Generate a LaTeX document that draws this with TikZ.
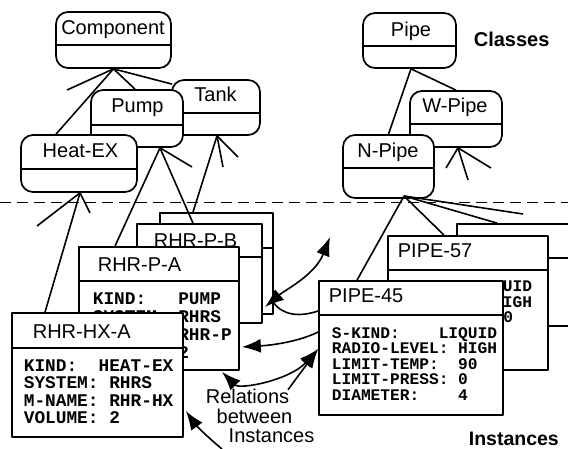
\documentclass[tikz,border=0pt]{standalone}
\usepackage{fontspec}
\setmainfont{Liberation Sans}
\newfontfamily\monofont{Liberation Mono}
\usetikzlibrary{arrows.meta,calc}
\begin{document}
\begin{tikzpicture}[x=1pt,y=-1pt,line width=1.7pt,line join=round,
  clsbox/.style={draw,fill=white,rounded corners=12pt,inner sep=0pt},
  insbox/.style={draw,fill=white,inner sep=0pt},
  sanstitle/.style={font=\fontsize{20}{24}\selectfont,inner sep=0pt},
  monoA/.style={font=\monofont\bfseries\fontsize{17.8}{20}\selectfont,inner sep=0pt,anchor=base west},
  monoB/.style={font=\monofont\bfseries\fontsize{16.2}{18}\selectfont,inner sep=0pt,anchor=base west},
  heading/.style={font=\bfseries\fontsize{20}{24}\selectfont,inner sep=0pt,anchor=base west},
  conn/.style={line width=1.6pt},
  rel/.style={line width=1.6pt,-{Latex[length=19pt,width=14pt]}},
  relboth/.style={line width=1.6pt,{Latex[length=19pt,width=14pt]}-{Latex[length=19pt,width=14pt]}}]

\useasboundingbox (0,0) rectangle (568,449);
\clip (0,0) rectangle (568,449);

% separator
\coordinate (sepL) at (0,202);
\coordinate (sepR) at (568,202);
\draw[line width=0.9pt,dash pattern=on 11pt off 6pt] (sepL) -- (sepR);

% ---------- instances ----------
\node[insbox,minimum width=113pt,minimum height=101pt] (rpc) at (216.5,263.5) {};
\draw (rpc.west |- 0,248) -- (rpc.east |- 0,248);

\node[insbox,minimum width=125pt,minimum height=99pt] (rpb) at (199.5,273.5) {};
\draw (rpb.west |- 0,257) -- (rpb.east |- 0,257);
\node[sanstitle,anchor=base west] (rpbT) at (153,247.5) {RHR-P-B};

\node[insbox,minimum width=160pt,minimum height=123pt] (rpa) at (159,308.5) {};
\draw (rpa.west |- 0,281) -- (rpa.east |- 0,281);
\node[sanstitle,anchor=base west] (rpaT) at (97,272) {RHR-P-A};
\node[monoA] (rpa1) at (92,305) {KIND:\ \ \ PUMP};
\node[monoA] (rpa2) at (92,322.7) {SYSTEM:\ RHRS};
\node[monoA] (rpa3) at (92,340.4) {M-NAME:\ RHR-P};
\node[monoA] (rpa4) at (92,358) {VOLUME:\ 2};

\node[insbox,minimum width=171pt,minimum height=124pt] (rhx) at (97.5,375) {};
\draw (rhx.west |- 0,348) -- (rhx.east |- 0,348);
\node[sanstitle,anchor=base west] (rhxT) at (32,338) {RHR-HX-A};
\node[monoA] (rhx1) at (23,371) {KIND:\ \ HEAT-EX};
\node[monoA] (rhx2) at (23,388.5) {SYSTEM:\ RHRS};
\node[monoA] (rhx3) at (23,406) {M-NAME:\ RHR-HX};
\node[monoA] (rhx4) at (23,423.5) {VOLUME:\ 2};

\node[insbox,minimum width=163pt,minimum height=102pt] (pbk) at (538.5,275) {};
\draw (pbk.west |- 0,258) -- (pbk.east |- 0,258);

\node[insbox,minimum width=160pt,minimum height=134pt] (p57) at (468,303) {};
\draw (p57.west |- 0,270) -- (p57.east |- 0,270);
\node[sanstitle,anchor=base west] (p57T) at (397,258) {PIPE-57};
\node[monoB,anchor=base east] (p57a) at (533,292) {LIQUID};
\node[monoB,anchor=base east] (p57b) at (533,307.5) {HIGH};
\node[monoB,anchor=base east] (p57c) at (514,323) {90};

\node[insbox,minimum width=184pt,minimum height=134pt] (p45) at (411,348) {};
\draw (p45.west |- 0,315) -- (p45.east |- 0,315);
\node[sanstitle,anchor=base west] (p45T) at (328,303) {PIPE-45};
\node[monoB] (p451) at (331,338) {S-KIND:\ \ \ \ LIQUID};
\node[monoB] (p452) at (331,353.5) {RADIO-LEVEL:\ HIGH};
\node[monoB] (p453) at (331,369) {LIMIT-TEMP:\ \ 90};
\node[monoB] (p454) at (331,384.5) {LIMIT-PRESS:\ 0};
\node[monoB] (p455) at (331,400) {DIAMETER:\ \ \ \ 4};

% ---------- classes ----------
\node[clsbox,minimum width=115pt,minimum height=56pt] (comp) at (113.5,40) {};
\draw (comp.west |- 0,45) -- (comp.east |- 0,45);
\node[sanstitle,anchor=base] (compT) at (113,35) {Component};

\node[clsbox,minimum width=88pt,minimum height=55pt] (tank) at (216,107.5) {};
\draw (tank.west |- 0,113) -- (tank.east |- 0,113);
\node[sanstitle,anchor=base] (tankT) at (215.5,101.7) {Tank};

\node[clsbox,minimum width=92pt,minimum height=57pt] (pump) at (137,118.5) {};
\draw (pump.west |- 0,125) -- (pump.east |- 0,125);
\node[sanstitle,anchor=base] (pumpT) at (137.5,112.7) {Pump};

\node[clsbox,minimum width=116pt,minimum height=57pt] (heat) at (79,163.5) {};
\draw (heat.west |- 0,169) -- (heat.east |- 0,169);
\node[sanstitle,anchor=base] (heatT) at (80.5,158) {Heat-EX};

\node[clsbox,minimum width=93pt,minimum height=55pt] (pipe) at (409.5,40.5) {};
\draw (pipe.west |- 0,46) -- (pipe.east |- 0,46);
\node[sanstitle,anchor=base] (pipeT) at (411,37) {Pipe};

\node[clsbox,minimum width=92pt,minimum height=56pt] (wpipe) at (456,119) {};
\draw (wpipe.west |- 0,124) -- (wpipe.east |- 0,124);
\node[sanstitle,anchor=base] (wpipeT) at (455,113) {W-Pipe};

\node[clsbox,minimum width=91pt,minimum height=63pt] (npipe) at (388.5,166.5) {};
\draw (npipe.west |- 0,168) -- (npipe.east |- 0,168);
\node[sanstitle,anchor=base] (npipeT) at (388,158) {N-Pipe};

\node[heading] (hcls) at (473,47) {Classes};
\node[heading,font=\bfseries\fontsize{19.5}{24}\selectfont] (hins) at (468,445) {Instances};

% ---------- generalisation / instance-of connectors ----------
\coordinate (compB) at (comp.south);
\coordinate (pumpB) at ($(pump.south)+(23,0)$);
\coordinate (tankB) at ($(tank.south)+(1,0)$);
\coordinate (heatB) at ($(heat.south)+(1,0)$);
\coordinate (pipeB) at ($(pipe.south)+(1.5,0)$);
\coordinate (wpipeB) at ($(wpipe.south)+(2,0)$);
\coordinate (npipeB) at (404,196);

\coordinate (st1) at (67,90);
\coordinate (st2) at (192,167);
\coordinate (st3) at (223,167);
\coordinate (st4) at (238,157);
\coordinate (st5) at (37,226);
\coordinate (st6) at (90,213);
\coordinate (st7) at (446,168);
\coordinate (st8) at (468,180);
\coordinate (st9) at (491,168);
\coordinate (st10) at (523,214);

\draw[conn] (compB) -- ($(heat.north)+(-23,0)$);
\draw[conn] (compB) -- (st1);
\draw[conn] (compB) -- ($(pump.north)+(-2,0)$);
\draw[conn] (compB) -- ($(tank.north west)+(1,5)$);

\draw[conn] (pumpB) -- ($(rpa.north)+(-44,0)$);
\draw[conn] (pumpB) -- ($(rpb.north)+(-6.5,0)$);
\draw[conn] (pumpB) -- (st2);

\draw[conn] (tankB) -- ($(rpc.north)+(-23.5,0)$);
\draw[conn] (tankB) -- (st3);
\draw[conn] (tankB) -- (st4);

\draw[conn] (heatB) -- (st5);
\draw[conn] (heatB) -- ($(rhx.north)+(-52.5,0)$);
\draw[conn] (heatB) -- (st6);

\draw[conn] (pipeB) -- (npipe.north);
\draw[conn] (pipeB) -- (wpipe.north);

\draw[conn] (wpipeB) -- (st7);
\draw[conn] (wpipeB) -- (st8);
\draw[conn] (wpipeB) -- (st9);

\draw[conn] (npipeB) -- ($(p45.north)+(-54,0)$);
\draw[conn] (npipeB) -- ($(p57.north)+(-24,0)$);
\draw[conn] (npipeB) -- ($(pbk.north west)+(41,0)$);
\draw[conn] (npipeB) -- (st10);

% ---------- relation label ----------
\node[sanstitle,anchor=base] (lab1) at (247.5,403) {Relations};
\node[sanstitle,anchor=base] (lab2) at (254.5,423) {between};
\node[sanstitle,anchor=base] (lab3) at (271.5,442) {Instances};

% ---------- relations between instances ----------
\coordinate (aU1) at (265,307);
\coordinate (aU2) at (330,237);
\coordinate (aB0) at (222,449);
\draw[relboth] (aU1) .. controls (285,290) and (315,275) .. (aU2);
\draw[conn] ($(p45.west)+(0,-37)$) .. controls (300,317) and (283,316) .. (273,302);
\draw[rel] ($(p45.west)+(0,-16)$) .. controls (300,341) and (275,345) .. ($(rpa.east)+(2,38.5)$);
\draw[relboth] ($(rpa.south)+(63,1)$) .. controls (240,390) and (290,380) .. ($(p45.west)+(0,1)$);
\draw[rel] ($(lab1.north east)+(-2,2)$) -- ($(p45.west)+(0,1)$);
\draw[rel] (aB0) .. controls (205,435) and (195,424) .. ($(rhx.east)+(2,36)$);
\end{tikzpicture}
\end{document}
